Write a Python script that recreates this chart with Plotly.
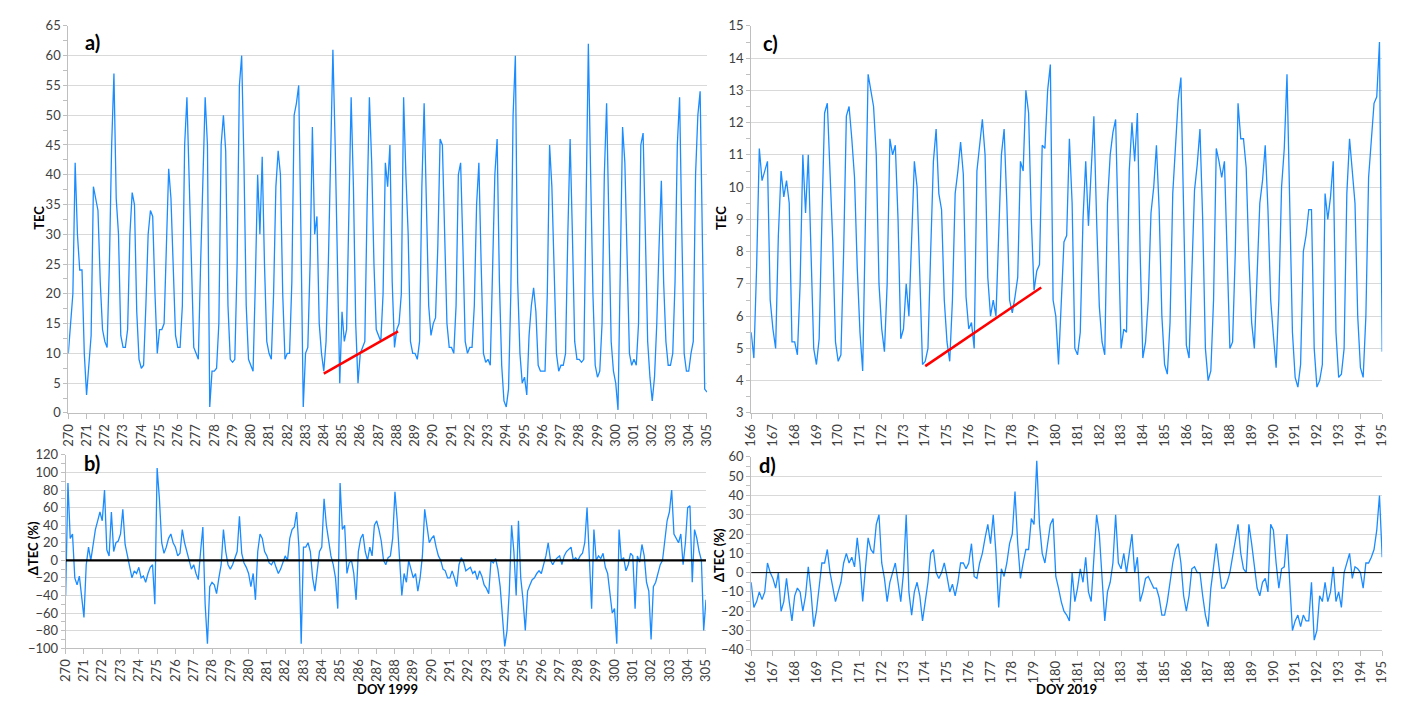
import numpy as np
import plotly.graph_objects as go

# ---------------- DATA ----------------
STEP = 1 / 8  # samples every 3 hours (day fraction)

# TEC, DOY 270-305 1999 (8 samples per day + end point)
tec_1999 = [
    10, 15, 20, 42, 30, 24, 24, 10,      # 270
    3, 8, 13, 38, 36, 34, 22, 14,        # 271
    12, 11, 25, 45, 57, 36, 30, 13,      # 272
    11, 11, 14, 30, 37, 35, 17, 9,       # 273
    7.5, 8, 18, 30, 34, 33, 20, 10,      # 274
    14, 14, 15, 28, 41, 36, 25, 13,      # 275
    11, 11, 18, 45, 53, 38, 25, 11,      # 276
    10, 9, 25, 40, 53, 45, 1, 7,         # 277
    7, 7.5, 15, 45, 50, 44, 18, 9,       # 278
    8.5, 9, 25, 55, 60, 42, 18, 9,       # 279
    8, 7, 22, 40, 30, 43, 25, 12,        # 280
    10, 9, 20, 38, 44, 40, 20, 9,        # 281
    10, 10, 22, 50, 52, 55, 30, 1,       # 282
    10, 11, 25, 48, 30, 33, 15, 10,      # 283
    7, 12, 25, 45, 61, 45, 25, 5,        # 284
    17, 12, 14, 35, 53, 38, 15, 5,       # 285
    10, 11, 12, 35, 53, 42, 25, 14,      # 286
    13, 12, 20, 42, 38, 45, 22, 11,      # 287
    14, 15, 20, 53, 40, 30, 12, 10,      # 288
    10, 9, 12, 38, 52, 35, 18, 13,       # 289
    15, 16, 28, 46, 45, 30, 15, 11,      # 290
    11, 10, 18, 40, 42, 28, 12, 10,      # 291
    11, 11, 18, 35, 42, 25, 10, 8.5,     # 292
    9, 8, 22, 40, 46, 22, 8, 2,          # 293
    1, 4, 20, 50, 60, 22, 10, 5,         # 294
    6, 3, 13, 18, 21, 17, 8, 7,          # 295
    7, 7, 20, 45, 38, 22, 10, 7,         # 296
    8, 8, 10, 30, 46, 30, 12, 9,         # 297
    9, 8.5, 9, 35, 62, 40, 20, 8,        # 298
    6, 7, 15, 40, 52, 32, 12, 7,         # 299
    5, 0.5, 25, 48, 42, 25, 10, 8,       # 300
    9, 8, 15, 45, 47, 30, 12, 6,         # 301
    2, 6, 15, 28, 39, 22, 12, 8,         # 302
    8, 10, 22, 45, 53, 30, 10, 7,        # 303
    7, 10, 12, 40, 50, 54, 30, 4,        # 304
    3.5,                                 # 305
]

# Delta TEC (%), DOY 270-305 1999
dtec_1999 = [
    -40, 88, 25, 30, -20, -28, -18, -40,     # 270
    -65, -5, 15, 0, 15, 35, 45, 55,          # 271
    45, 80, 12, 5, 55, 10, 20, 22,           # 272
    30, 58, 18, 5, -5, -20, -12, -15,        # 273
    -8, -20, -18, -25, -15, -8, -5, -50,     # 274
    105, 70, 20, 8, 15, 25, 30, 20,          # 275
    15, 5, 8, 35, 20, 8, 0, -10,             # 276
    -5, -15, -22, 10, 38, -50, -95, -30,     # 277
    -25, -28, -38, -20, -5, 35, 10, -5,      # 278
    -10, -5, 2, 10, 50, 8, -3, -8,           # 279
    -15, -30, -15, -45, 10, 30, 25, 10,      # 280
    5, -3, -5, 0, -8, -15, -10, -3,          # 281
    5, 0, 25, 35, 38, 55, 15, -95,           # 282
    15, 15, 20, 10, -20, -35, -15, 10,       # 283
    15, 70, 40, 25, 5, -5, -20, -55,         # 284
    88, 35, 40, -15, -3, 0, -15, -45,        # 285
    10, 25, 30, 10, 0, 15, 5, 40,            # 286
    45, 35, 22, 0, -5, 3, 5, 25,             # 287
    78, 45, 0, -40, -15, -25, 0, -10,        # 288
    -20, -15, -35, -20, 5, 58, 40, 20,       # 289
    25, 28, 15, 5, 0, -10, -12, -20,         # 290
    -20, -12, -20, -30, -5, 3, -2, -12,      # 291
    -10, -8, -15, -12, -22, -12, -18, -28,   # 292
    -32, -38, 0, -3, 2, -10, -30, -60,       # 293
    -98, -80, -35, 40, 10, -40, 45, -20,     # 294
    -45, -80, -35, -28, -22, -20, -15, -12,  # 295
    -15, -5, 5, 20, 0, -5, 0, 3,             # 296
    5, -5, 5, 10, 12, 15, 0, 3,              # 297
    0, 5, 8, 20, 60, 5, -55, 35,             # 298
    0, 5, 2, 8, -8, -15, -35, -60,           # 299
    -55, -95, 35, 0, 3, -12, -5, 8,          # 300
    5, -55, 5, -2, 18, 5, -25, -35,          # 301
    -90, -30, -25, -15, -5, 0, 25, 45,       # 302
    55, 80, 30, 25, 20, 30, -5, 20,          # 303
    60, 62, -25, 35, 25, 10, 0, -80,         # 304
    -45,                                     # 305
]

# TEC, DOY 166-195 2019
tec_2019 = [
    5.5, 4.7, 7.5, 11.2, 10.2, 10.5, 10.8, 6.5,   # 166
    5.6, 5.0, 8.5, 10.5, 9.7, 10.2, 9.5, 5.2,     # 167
    5.2, 4.8, 7.0, 11.0, 9.2, 11.0, 8.0, 5.0,     # 168
    4.5, 5.3, 9.0, 12.3, 12.6, 10.5, 8.3, 5.2,    # 169
    4.6, 4.8, 8.0, 12.2, 12.5, 11.5, 10.3, 7.5,   # 170
    5.5, 4.3, 8.5, 13.5, 13.0, 12.5, 11.0, 7.0,   # 171
    5.6, 4.9, 7.0, 11.5, 11.0, 11.3, 9.0, 5.3,    # 172
    5.6, 7.0, 6.0, 8.5, 10.8, 10.0, 7.0, 4.5,     # 173
    4.6, 5.0, 8.0, 10.8, 11.8, 9.8, 9.3, 6.5,     # 174
    5.2, 4.6, 6.5, 9.8, 10.5, 11.4, 10.4, 6.6,    # 175
    5.6, 5.8, 5.0, 10.5, 11.3, 12.1, 11.0, 7.2,   # 176
    6.0, 6.5, 6.0, 8.9, 11.0, 11.8, 9.5, 6.5,     # 177
    6.1, 6.6, 7.2, 10.8, 10.5, 13.0, 12.3, 9.0,   # 178
    6.8, 7.4, 7.6, 11.3, 11.2, 13.0, 13.8, 6.5,   # 179
    6.0, 4.5, 6.5, 8.3, 8.5, 11.5, 9.5, 5.0,      # 180
    4.8, 5.5, 9.0, 10.8, 8.8, 10.5, 12.2, 9.0,    # 181
    6.3, 5.2, 4.8, 9.5, 11.0, 11.7, 12.1, 8.5,    # 182
    5.0, 5.6, 5.5, 10.5, 12.0, 10.8, 12.3, 8.0,   # 183
    4.7, 5.2, 6.5, 9.2, 10.0, 11.3, 9.3, 6.0,     # 184
    4.5, 4.2, 5.8, 9.8, 11.3, 12.7, 13.4, 9.0,    # 185
    5.1, 4.7, 7.5, 9.9, 10.7, 11.8, 9.0, 5.0,     # 186
    4.0, 4.3, 6.5, 11.2, 10.8, 10.3, 10.8, 8.0,   # 187
    5.0, 5.2, 8.0, 12.6, 11.5, 11.5, 10.6, 7.8,   # 188
    5.8, 5.0, 7.0, 9.5, 10.2, 11.3, 9.3, 6.5,     # 189
    5.4, 4.4, 6.5, 10.0, 11.2, 13.5, 9.5, 5.5,    # 190
    4.1, 3.8, 4.5, 8.0, 8.5, 9.3, 9.3, 5.0,       # 191
    3.8, 4.0, 4.5, 9.8, 9.0, 9.7, 10.8, 5.5,      # 192
    4.1, 4.2, 5.0, 9.8, 11.5, 10.5, 9.5, 6.0,     # 193
    4.4, 4.1, 6.0, 10.3, 11.5, 12.6, 12.8, 14.5,  # 194
    4.9,                                          # 195
]

# Delta TEC (%), DOY 166-195 2019
dtec_2019 = [
    -5, -18, -15, -10, -14, -10, 5, 0,       # 166
    -3, -8, 0, -20, -15, -3, -15, -25,       # 167
    -12, -8, -10, -20, -12, 3, -10, -28,     # 168
    -20, -8, 5, 5, 12, 0, -8, -15,           # 169
    -10, -5, 5, 10, 5, 8, 3, 18,             # 170
    5, -15, 2, 18, 12, 10, 25, 30,           # 171
    5, -3, -15, -5, 0, 5, -5, -15,           # 172
    0, 30, -10, -22, -10, -5, -12, -25,      # 173
    -15, -5, 10, 12, 0, -3, 0, 5,            # 174
    -2, -10, -6, -12, -5, 5, 5, 2,           # 175
    5, 15, -2, -3, 5, 10, 18, 25,            # 176
    15, 30, 10, -18, 2, -2, 5, 15,           # 177
    20, 42, 15, -3, 5, 12, 12, 28,           # 178
    25, 58, 25, 10, 5, 15, 25, 28,           # 179
    -2, -8, -15, -20, -22, -25, 0, -15,      # 180
    -8, 2, -5, 8, -10, -15, 10, 30,          # 181
    20, -5, -25, -10, -5, 5, 30, 5,          # 182
    2, 10, 0, 10, 20, 0, 8, -15,             # 183
    -10, -3, -2, -5, -8, -8, -13, -22,       # 184
    -22, -15, -5, 5, 12, 15, 5, -12,         # 185
    -20, -12, 2, 3, 0, 0, -12, -22,          # 186
    -28, -8, 3, 15, 3, -8, -8, -5,           # 187
    0, 8, 18, 25, 10, 2, 0, 25,              # 188
    15, 3, -8, -12, -5, -3, -10, 25,         # 189
    22, 5, -8, 2, 3, 20, -5, -30,            # 190
    -25, -22, -28, -22, -25, -25, -5, -35,   # 191
    -30, -12, -15, -5, -15, -10, 3, -15,     # 192
    -10, -18, 0, 5, 10, -3, 3, 2,            # 193
    0, -8, 5, 5, 8, 12, 22, 40,              # 194
    8,                                       # 195
]

# red trend segments
trend_1999_doy = [284.0, 288.07]
trend_1999_tec = [6.6, 13.7]
trend_2019_doy = [174.0, 179.33]
trend_2019_tec = [4.45, 6.89]

# zero reference lines
zero_1999_doy = [270, 305]
zero_2019_doy = [166, 195]
zero_vals = [0, 0]

# ---------------- FIGURE ----------------
t1999 = 270 + np.arange(len(tec_1999)) * STEP
t2019 = 166 + np.arange(len(tec_2019)) * STEP

BLUE = "#1a8cff"
W, H = 1406, 705
FONT = "Lato"

fig = go.Figure()
ln = dict(color=BLUE, width=1.3)
fig.add_trace(go.Scatter(x=t1999, y=tec_1999, mode="lines", line=ln, xaxis="x", yaxis="y"))
fig.add_trace(go.Scatter(x=trend_1999_doy, y=trend_1999_tec, mode="lines",
                         line=dict(color="#ff0000", width=2.5), xaxis="x", yaxis="y"))
fig.add_trace(go.Scatter(x=t1999, y=dtec_1999, mode="lines", line=ln, xaxis="x2", yaxis="y2"))
fig.add_trace(go.Scatter(x=zero_1999_doy, y=zero_vals, mode="lines",
                         line=dict(color="#000000", width=2.2), xaxis="x2", yaxis="y2"))
fig.add_trace(go.Scatter(x=t2019, y=tec_2019, mode="lines", line=ln, xaxis="x3", yaxis="y3"))
fig.add_trace(go.Scatter(x=trend_2019_doy, y=trend_2019_tec, mode="lines",
                         line=dict(color="#ff0000", width=2.5), xaxis="x3", yaxis="y3"))
fig.add_trace(go.Scatter(x=t2019, y=dtec_2019, mode="lines", line=ln, xaxis="x4", yaxis="y4"))
fig.add_trace(go.Scatter(x=zero_2019_doy, y=zero_vals, mode="lines",
                         line=dict(color="#000000", width=1), xaxis="x4", yaxis="y4"))


def px_x(p):
    return p / W


def px_y(p):
    return 1 - p / H


tickfont = dict(family=FONT, size=13, color="#404040")
AX_COL = "#bfbfbf"


def xax(rng, dom, anchor):
    return dict(range=rng, domain=dom, anchor=anchor, dtick=1, tick0=rng[0], tickangle=-90,
                showgrid=False, zeroline=False, showline=True, linecolor=AX_COL, linewidth=1,
                ticks="outside", ticklen=5, tickcolor=AX_COL, tickfont=tickfont, fixedrange=True)


def yax(rng, dom, anchor, dt):
    return dict(range=rng, domain=dom, anchor=anchor, dtick=dt, tick0=rng[0],
                showgrid=True, gridcolor="#d9d9d9", gridwidth=1, zeroline=False,
                showline=True, linecolor=AX_COL, linewidth=1,
                ticks="outside", ticklen=4, tickcolor=AX_COL, tickfont=tickfont,
                minor=dict(dtick=dt / 2, ticks="outside", ticklen=4, tickcolor=AX_COL, showgrid=False),
                fixedrange=True)


fig.update_layout(
    width=W, height=H, autosize=False,
    margin=dict(l=0, r=0, t=0, b=0),
    paper_bgcolor="white", plot_bgcolor="white", showlegend=False,
    xaxis=xax([270, 305], [px_x(60), px_x(706)], "y"),
    yaxis=yax([0, 65], [px_y(414.3), px_y(18.3)], "x", 5),
    xaxis2=xax([270, 305], [px_x(57.3), px_x(705)], "y2"),
    yaxis2=yax([-100, 120], [px_y(655), px_y(457.3)], "x2", 20),
    xaxis3=xax([166, 195], [px_x(750.7), px_x(1389)], "y3"),
    yaxis3=yax([3, 15], [px_y(414.3), px_y(18.3)], "x3", 1),
    xaxis4=xax([166, 195], [px_x(750.7), px_x(1389)], "y4"),
    yaxis4=yax([-40, 60], [px_y(656.7), px_y(459.3)], "x4", 10),
)


def ann(text, x, y, size=13, angle=0):
    fig.add_annotation(text=text, x=px_x(x), y=px_y(y), xref="paper", yref="paper",
                       xanchor="center", yanchor="middle", showarrow=False, textangle=angle,
                       font=dict(family=FONT, size=size, color="#000000"))


ann("<b>a)</b>", 84, 35, size=20)
ann("<b>b)</b>", 84, 466, size=20)
ann("<b>c)</b>", 770, 36, size=20)
ann("<b>d)</b>", 767, 468, size=20)
ann("<b>TEC</b>", 30, 215, angle=-90)
ann("<b>TEC</b>", 720, 215, angle=-90)
ann("<b>ΔTEC (%)</b>", 25, 553, angle=-90)
ann("<b>ΔTEC (%)</b>", 718, 560, angle=-90)
ann("<b>DOY 1999</b>", 383, 697)
ann("<b>DOY 2019</b>", 1070, 697)

fig.write_html("out.html")
